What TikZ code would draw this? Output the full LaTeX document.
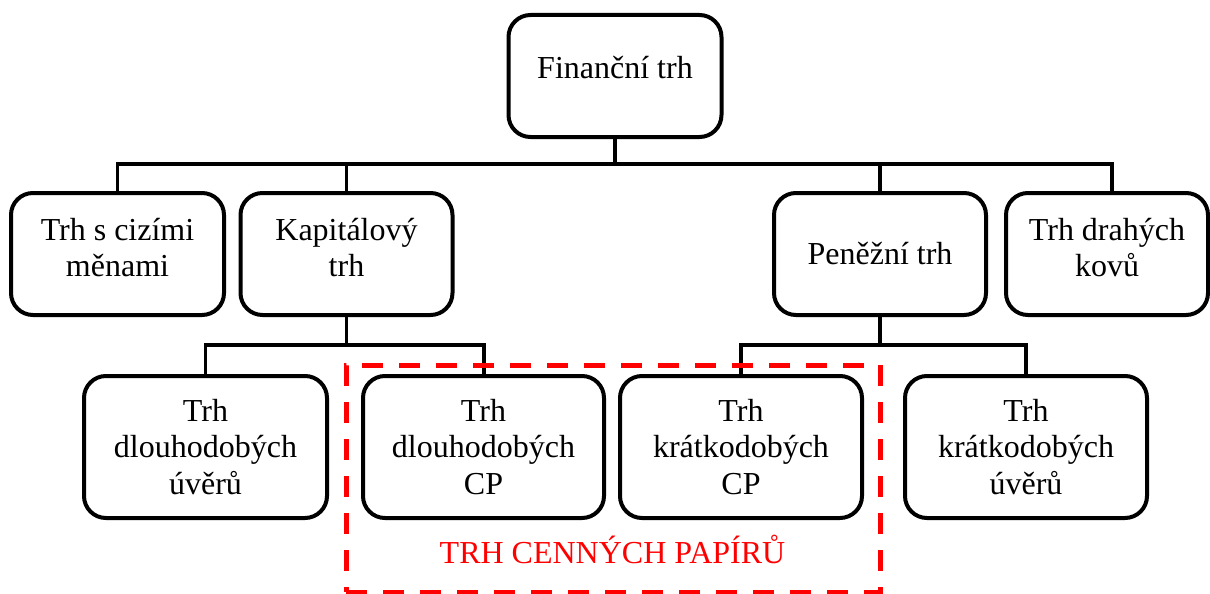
\documentclass[tikz,border=0pt]{standalone}
\usepackage{fontspec}
\setmainfont{Liberation Serif}
\newcommand{\padd}[1]{\rule[-#1]{0pt}{#1}}
\begin{document}
\begin{tikzpicture}[x=1pt,y=-1pt,
  box/.style={draw=black, line width=4pt, rounded corners=22pt, align=center,
    inner sep=0pt, fill=white, font=\fontsize{32pt}{36.7pt}\selectfont},
  conn/.style={draw=black, line width=3.5pt},
  redbox/.style={draw=red, line width=5pt, dash pattern=on 21pt off 16pt},
  redlbl/.style={text=red, inner sep=0pt, font=\fontsize{32pt}{36.7pt}\selectfont},
]
\useasboundingbox (0,0) rectangle (1210,594);

% top
\node[box, minimum width=213pt, minimum height=122pt] (fin) at (615,76) {Finanční trh\padd{18pt}};

% row 2
\node[box, minimum width=213pt, minimum height=122pt] (cizi) at (117.5,254) {Trh s cizími\\měnami\padd{13pt}};
\node[box, minimum width=212pt, minimum height=122pt] (kap) at (346.5,254) {Kapitálový\\trh\padd{13pt}};
\node[box, minimum width=212pt, minimum height=122pt] (pen) at (880,254) {Peněžní trh};
\node[box, minimum width=202pt, minimum height=122pt] (drah) at (1107,254) {Trh drahých\\kovů\padd{13pt}};

% row 3
\node[box, minimum width=243pt, minimum height=142pt] (dlu) at (205.5,447) {Trh\\dlouhodobých\\úvěrů};
\node[box, minimum width=241pt, minimum height=142pt] (dcp) at (483.5,447) {Trh\\dlouhodobých\\CP};
\node[box, minimum width=242pt, minimum height=142pt] (kcp) at (741,447) {Trh\\krátkodobých\\CP};
\node[box, minimum width=242pt, minimum height=142pt] (ku) at (1026,447) {Trh\\krátkodobých\\úvěrů};

% connectors
\coordinate (bus) at (0,164);
\coordinate (bus2) at (0,345);
\draw[conn] (fin.south) -- (fin.south |- bus);
\draw[conn] (cizi.north) -- (cizi.north |- bus) -| ([xshift=5pt]drah.north);
\draw[conn] (kap.north) -- (kap.north |- bus);
\draw[conn] (pen.north) -- (pen.north |- bus);

\draw[conn] (kap.south) -- (kap.south |- bus2);
\draw[conn] (dlu.north) -- (dlu.north |- bus2) -| ([xshift=0.5pt]dcp.north);
\draw[conn] (pen.south) -- (pen.south |- bus2);
\draw[conn] (kcp.north) -- (kcp.north |- bus2) -| (ku.north);

% securities market frame
\node[redbox, minimum width=534pt, minimum height=227pt, inner sep=0pt] (cpframe) at (613,478.5) {};
\node[redlbl, anchor=base] (cplabel) at (612.5,563) {TRH CENNÝCH PAPÍRŮ};
\end{tikzpicture}
\end{document}
